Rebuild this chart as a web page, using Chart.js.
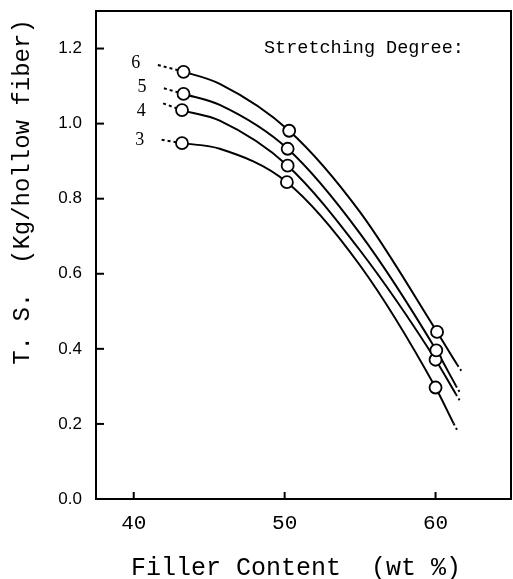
<!DOCTYPE html>
<html>
<head>
<meta charset="utf-8">
<script src="https://cdn.jsdelivr.net/npm/chart.js@4.4.1/dist/chart.umd.min.js"></script>
<style>
  html, body { margin: 0; padding: 0; background: #fff; }
  #wrap { width: 513px; height: 579px; }
</style>
</head>
<body>
<div id="wrap"><canvas id="c" width="513" height="579"></canvas></div>
<script>
// ---- data ----
const xTicks = [40, 50, 60];
const yTicks = [0, 0.2, 0.4, 0.6, 0.8, 1.0, 1.2];
const degrees = ['6', '5', '4', '3'];

// measured points (open circles)
const markerX6 = [43.3, 50.3, 60.1];   const markerY6 = [1.138, 0.981, 0.445];
const markerX5 = [43.3, 50.2, 60.05];  const markerY5 = [1.079, 0.933, 0.396];
const markerX4 = [43.2, 50.2, 60.0];   const markerY4 = [1.036, 0.888, 0.371];
const markerX3 = [43.2, 50.15, 60.0];  const markerY3 = [0.948, 0.844, 0.297];

// fitted curves
const curveX6 = [41.6, 43.3, 45.7, 50.3, 55.0, 60.1, 61.45, 61.75];
const curveY6 = [1.156, 1.138, 1.106, 0.981, 0.764, 0.445, 0.357, 0.339];
const curveX5 = [42.0, 43.3, 45.7, 50.2, 55.0, 60.05, 61.35, 61.65];
const curveY5 = [1.094, 1.079, 1.050, 0.933, 0.707, 0.396, 0.302, 0.281];
const curveX4 = [41.95, 43.2, 45.7, 50.2, 55.0, 60.0, 61.35, 61.65];
const curveY4 = [1.054, 1.036, 1.008, 0.888, 0.662, 0.371, 0.279, 0.259];
const curveX3 = [41.85, 43.2, 45.7, 50.15, 55.0, 60.0, 61.2, 61.5];
const curveY3 = [0.957, 0.948, 0.933, 0.844, 0.622, 0.297, 0.201, 0.178];

const xTitle = 'Filler Content  (wt %)';
const yTitle = 'T. S.  (Kg/hollow fiber)';
const legendTitle = 'Stretching Degree:';

// ---- build datasets ----
const pairs = (xs, ys) => xs.map((x, i) => ({ x: x, y: ys[i] }));
const curves = [[curveX6, curveY6], [curveX5, curveY5], [curveX4, curveY4], [curveX3, curveY3]];
const markers = [[markerX6, markerY6], [markerX5, markerY5], [markerX4, markerY4], [markerX3, markerY3]];

const datasets = [];
markers.forEach((m, i) => {
  datasets.push({
    label: 'm' + degrees[i],
    data: pairs(m[0], m[1]),
    showLine: false,
    pointRadius: 6,
    pointBorderWidth: 1.8,
    pointBorderColor: '#000',
    pointBackgroundColor: '#fff',
    order: 0
  });
});
curves.forEach((c, i) => {
  const n = c[0].length;
  datasets.push({
    label: degrees[i],
    data: pairs(c[0], c[1]),
    borderColor: '#000',
    borderWidth: 2,
    pointRadius: 0,
    cubicInterpolationMode: 'monotone',
    fill: false,
    order: 1,
    segment: {
      borderDash: ctx => (ctx.p0DataIndex === 0) ? [3, 3] : (ctx.p1DataIndex === n - 1 ? [2, 3] : undefined)
    }
  });
});

const zeroPad = s => { s.paddingTop = 0; s.paddingBottom = 0; s.paddingLeft = 0; s.paddingRight = 0; };

const decor = {
  id: 'decor',
  beforeDatasetsDraw(chart) {
    const { ctx, chartArea: a } = chart;
    ctx.save();
    ctx.strokeStyle = '#000';
    ctx.lineWidth = 2;
    ctx.strokeRect(a.left, a.top, a.right - a.left, a.bottom - a.top);
    // inward ticks
    const xs = chart.scales.x, ys = chart.scales.y;
    xTicks.forEach(v => {
      const px = xs.getPixelForValue(v);
      ctx.beginPath(); ctx.moveTo(px, a.bottom); ctx.lineTo(px, a.bottom - 7); ctx.stroke();
    });
    yTicks.forEach(v => {
      const py = ys.getPixelForValue(v);
      ctx.beginPath(); ctx.moveTo(a.left, py); ctx.lineTo(a.left + 8, py); ctx.stroke();
    });
    ctx.restore();
  },
  afterDraw(chart) {
    const { ctx, chartArea: a } = chart;
    const xs = chart.scales.x, ys = chart.scales.y;
    ctx.save();
    ctx.fillStyle = '#000';
    // series labels next to curve starts
    const dy = [-2, -1, 8, 1];
    ctx.font = '18px "Liberation Serif", serif';
    ctx.textAlign = 'center';
    ctx.textBaseline = 'middle';
    curves.forEach((c, i) => {
      const px = xs.getPixelForValue(c[0][0]) - 22;
      const py = ys.getPixelForValue(c[1][0]) + dy[i];
      ctx.fillText(degrees[i], px, py);
    });
    // legend heading
    ctx.font = '18.5px "Liberation Mono", monospace';
    ctx.textAlign = 'left';
    ctx.fillText(legendTitle, a.left + 168, a.top + 37);
    // x title
    ctx.font = '25px "Liberation Mono", monospace';
    ctx.textAlign = 'center';
    ctx.fillText(xTitle, 296, 568);
    // y title
    ctx.translate(23, 192);
    ctx.rotate(-Math.PI / 2);
    ctx.font = '24px "Liberation Mono", monospace';
    ctx.fillText(yTitle, 0, 0);
    ctx.restore();
  }
};

new Chart(document.getElementById('c'), {
  type: 'line',
  data: { datasets },
  plugins: [decor],
  options: {
    responsive: false,
    animation: false,
    events: [],
    layout: { autoPadding: false, padding: { top: 11, right: 2, left: 0, bottom: 0 } },
    plugins: { legend: { display: false }, tooltip: { enabled: false }, title: { display: false } },
    scales: {
      x: {
        type: 'linear', min: 37.5, max: 65,
        afterBuildTicks: s => { s.ticks = xTicks.map(v => ({ value: v })); },
        afterFit: s => { s.height = 80; zeroPad(s); },
        grid: { display: false, drawTicks: false },
        border: { display: false },
        ticks: { color: '#000', padding: 12, font: { family: '"Liberation Mono", monospace', size: 21 }, callback: v => String(v), maxRotation: 0 }
      },
      y: {
        type: 'linear', min: 0, max: 1.3,
        afterBuildTicks: s => { s.ticks = yTicks.map(v => ({ value: v })); },
        afterFit: s => { s.width = 96; zeroPad(s); },
        grid: { display: false, drawTicks: false },
        border: { display: false },
        ticks: { color: '#000', padding: 14, font: { family: '"Liberation Sans", sans-serif', size: 17 }, callback: v => v.toFixed(1) }
      }
    }
  }
});
</script>
</body>
</html>
